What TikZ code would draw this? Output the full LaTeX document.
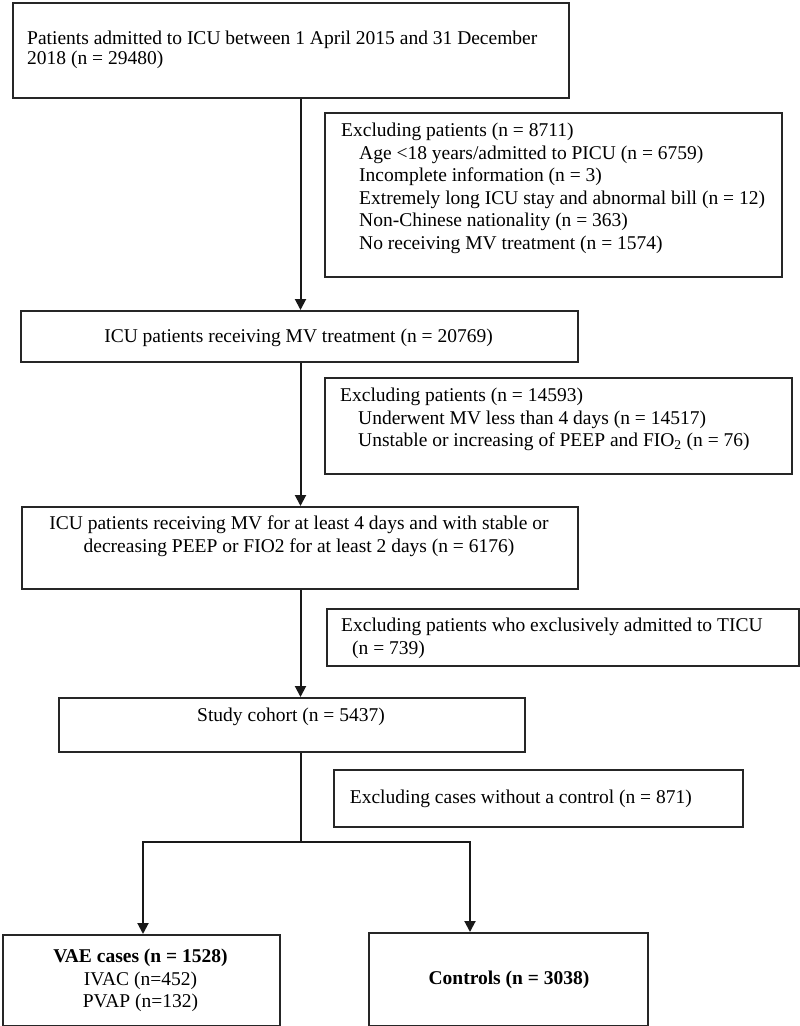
\documentclass[tikz,border=0pt]{standalone}
\usepackage{fontspec}
\setmainfont{Liberation Serif}
\usetikzlibrary{arrows.meta}
\begin{document}
\begin{tikzpicture}[x=1pt,y=-1pt,
  box/.style={draw=black!85, line width=1.6pt, inner sep=0pt, anchor=north west},
  txt/.style={inner sep=0pt, font=\fontsize{19.5}{22.5}\selectfont},
  conn/.style={draw=black!90, line width=2pt, line join=miter},
  arr/.style={conn, -{Triangle[width=11pt,length=11pt]}}]
\useasboundingbox (0,0) rectangle (800,1026);
% boxes
\node[box, minimum width=556pt, minimum height=95pt] (b1) at (12,2) {};
\node[box, minimum width=457pt, minimum height=164pt] (e1) at (324,112) {};
\node[box, minimum width=557pt, minimum height=51pt] (b2) at (20,310) {};
\node[box, minimum width=467pt, minimum height=96pt] (e2) at (324,377) {};
\node[box, minimum width=556pt, minimum height=82pt] (b3) at (21,506) {};
\node[box, minimum width=472pt, minimum height=57pt] (e3) at (326,608) {};
\node[box, minimum width=466pt, minimum height=54pt] (b4) at (58,697) {};
\node[box, minimum width=409pt, minimum height=57pt] (e4) at (333,769) {};
\node[box, minimum width=277pt, minimum height=91pt] (vae) at (2,934) {};
\node[box, minimum width=279pt, minimum height=93pt] (ctl) at (368,932) {};
% texts
\node[txt, align=left, anchor=west, font=\fontsize{19.5}{20.5}\selectfont] (t1) at (27,50)
  {Patients admitted to ICU between 1 April 2015 and 31 December\\2018 (n = 29480)};
\node[txt, align=left, anchor=west] (te1) at (341,188.5)
  {Excluding patients (n = 8711)\\
   \hspace*{18pt}Age <18 years/admitted to PICU (n = 6759)\\
   \hspace*{18pt}Incomplete information (n = 3)\\
   \hspace*{18pt}Extremely long ICU stay and abnormal bill (n = 12)\\
   \hspace*{18pt}Non-Chinese nationality (n = 363)\\
   \hspace*{18pt}No receiving MV treatment (n = 1574)};
\node[txt] (t2) at (298.5,338) {ICU patients receiving MV treatment (n = 20769)};
\node[txt, align=left, anchor=west] (te2) at (340,419.5)
  {Excluding patients (n = 14593)\\
   \hspace*{18pt}Underwent MV less than 4 days (n = 14517)\\
   \hspace*{18pt}Unstable or increasing of PEEP and FIO\textsubscript{2} (n = 76)};
\node[txt, align=center] (t3) at (299,536)
  {ICU patients receiving MV for at least 4 days and with stable or\\
   decreasing PEEP or FIO2 for at least 2 days (n = 6176)};
\node[txt, align=left, anchor=west] (te3) at (341,638.5)
  {Excluding patients who exclusively admitted to TICU\\
   \hspace*{11pt}(n = 739)};
\node[txt] (t4) at (291,717) {Study cohort (n = 5437)};
\node[txt, anchor=east] (te4) at (692,799) {Excluding cases without a control (n = 871)};
\node[txt, align=center, font=\fontsize{19.5}{22.5}\selectfont] (tv) at (140.5,980.5)
  {\textbf{VAE cases (n = 1528)}\\IVAC (n=452)\\PVAP (n=132)};
\node[txt, font=\fontsize{19.5}{22.5}\selectfont\bfseries] (tc) at (509,980) {Controls (n = 3038)};
% connectors
\coordinate (ax) at (300.5,0);
\coordinate (sp) at (300.5,842);
\coordinate (lx) at (143,0);
\coordinate (rx) at (470,0);
\draw[arr] (b1.south -| ax) -- (b2.north -| ax);
\draw[arr] (b2.south -| ax) -- (b3.north -| ax);
\draw[arr] (b3.south -| ax) -- (b4.north -| ax);
\draw[conn] (b4.south -| ax) -- (sp);
\draw[arr] (sp) -| (vae.north -| lx);
\draw[arr] (sp) -| (ctl.north -| rx);
\end{tikzpicture}
\end{document}
